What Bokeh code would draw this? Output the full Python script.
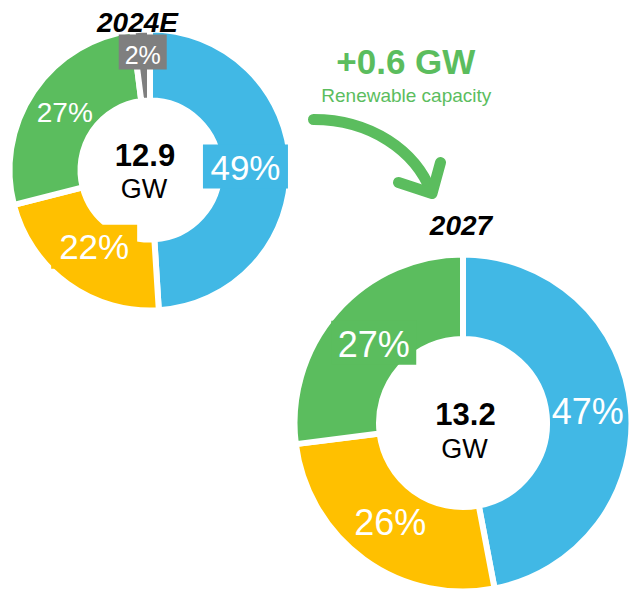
import numpy as np
from bokeh.plotting import figure
from bokeh.models import ColumnDataSource, Range1d
from bokeh.core.properties import value
from bokeh.embed import file_html
from bokeh.resources import INLINE

# ---------------- data ----------------
years = ["2024E", "2027"]
totals = ["12.9", "13.2"]
unit = "GW"
segments_2024 = ["Segment A", "Segment B", "Segment C", "Segment D"]
shares_2024 = [49, 22, 27, 2]
segments_2027 = ["Segment A", "Segment B", "Segment C"]
shares_2027 = [47, 26, 27]
delta_label = "+0.6 GW"
delta_sub = "Renewable capacity"

# ---------------- styles / layout ----------------
BLUE, YELLOW, GREEN, GRAY = "#41B8E5", "#FFC000", "#5BBD5E", "#7F7F7F"
colors_2024 = [BLUE, YELLOW, GREEN, GRAY]
colors_2027 = [BLUE, YELLOW, GREEN]
FONT = "Liberation Sans"
W, H = 629, 589


def sy(Y):
    # layout positions are given from the top edge; data y grows upward
    return H - Y


donuts = [
    dict(cx=149.5, cy=sy(169.5), R=140.5, r=69.5,
         lab_r=[95.5, 95, 103, 115.7], lab_fs=[35, 35, 28, 25],
         box_w=[85, 86, 0, 48], box_h=[44, 44, 0, 35], box_dy=[0.5, 0, 0, 2.5],
         title_dx=-12.5, title_Y=21.7, tot_dx=-5, tot_Y=154.9, unit_Y=188.6),
    dict(cx=462.5, cy=sy(422.5), R=168.5, r=84,
         lab_r=[125.4, 123.6, 119], lab_fs=[36, 36, 36],
         box_w=[0, 0, 85], box_h=[0, 0, 44], box_dy=[0, 0, 1.5],
         title_dx=-2, title_Y=225, tot_dx=2.5, tot_Y=413.9, unit_Y=448.6),
]

p = figure(width=W, height=H, output_backend="svg", toolbar_location=None,
           x_range=Range1d(0, W), y_range=Range1d(0, H),
           min_border=0, min_border_left=0, min_border_right=0,
           min_border_top=0, min_border_bottom=0,
           x_axis_location=None, y_axis_location=None)
p.grid.visible = False
p.outline_line_color = None
p.background_fill_color = "white"
p.border_fill_color = "white"

for d, shares, cols, year, tot in zip(donuts, [shares_2024, shares_2027],
                                      [colors_2024, colors_2027], years, totals):
    fr = np.array(shares, dtype=float) / 100.0
    cum = np.concatenate([[0], np.cumsum(fr)])
    start = np.pi / 2 - 2 * np.pi * cum[:-1]
    end = np.pi / 2 - 2 * np.pi * cum[1:]
    src = ColumnDataSource(dict(x=[d["cx"]] * len(fr), y=[d["cy"]] * len(fr),
                                start=start, end=end, color=cols))
    p.annular_wedge(x="x", y="y", inner_radius=d["r"], outer_radius=d["R"],
                    inner_radius_units="screen", outer_radius_units="screen",
                    start_angle="start", end_angle="end", direction="clock",
                    fill_color="color", line_color="white", line_width=6, source=src)

    # slice labels on bisectors
    mid = (cum[:-1] + cum[1:]) / 2 * 2 * np.pi
    lr = np.array(d["lab_r"])
    fs = np.array(d["lab_fs"], dtype=float)
    lx = d["cx"] + lr * np.sin(mid)
    ly = d["cy"] + lr * np.cos(mid)
    bw = np.array(d["box_w"], dtype=float)
    lsrc = ColumnDataSource(dict(x=lx, y=ly, by=ly + np.array(d["box_dy"]),
                                 text=[f"{s}%" for s in shares],
                                 fs=[f"{int(f)}px" for f in fs], bg=cols,
                                 bw=bw, bh=np.array(d["box_h"], dtype=float),
                                 ba=(bw > 0).astype(float)))
    p.rect(x="x", y="by", width="bw", height="bh", width_units="screen",
           height_units="screen", fill_color="bg", fill_alpha="ba",
           line_color=None, source=lsrc)
    p.text(x="x", y="y", text="text", source=lsrc, text_font=value(FONT),
           text_font_size="fs", text_color="white", text_align="center",
           text_baseline="middle")

    # centre total
    p.text(x=[d["cx"] + d["tot_dx"]], y=[sy(d["tot_Y"])], text=[tot],
           text_font=value(FONT), text_font_size="31px", text_font_style="bold",
           text_color="black", text_align="center", text_baseline="middle")
    p.text(x=[d["cx"] + d["tot_dx"] - 1], y=[sy(d["unit_Y"])], text=[unit],
           text_font=value(FONT), text_font_size="27px", text_color="black",
           text_align="center", text_baseline="middle")
    # year title
    p.text(x=[d["cx"] + d["title_dx"]], y=[sy(d["title_Y"])], text=[year],
           text_font=value(FONT), text_font_size="28px", text_font_style="bold italic",
           text_color="black", text_align="center", text_baseline="middle")

# growth annotation
p.text(x=[405.3], y=[sy(60.8)], text=[delta_label], text_font=value(FONT),
       text_font_size="35px", text_font_style="bold", text_color=GREEN,
       text_align="center", text_baseline="middle")
p.text(x=[405.8], y=[sy(94.9)], text=[delta_sub], text_font=value(FONT),
       text_font_size="19px", text_color=GREEN,
       text_align="center", text_baseline="middle")

# curved arrow
p.bezier(x0=[313], y0=[sy(119)], cx0=[370], cy0=[sy(119)],
         cx1=[415], cy1=[sy(150)], x1=[431], y1=[sy(192)],
         line_color=GREEN, line_width=11, line_cap="round")
p.line(x=[398, 431.5, 440], y=[sy(182), sy(193), sy(162)],
       line_color=GREEN, line_width=11, line_cap="round", line_join="round")

open("out.html", "w").write(file_html(p, INLINE))
